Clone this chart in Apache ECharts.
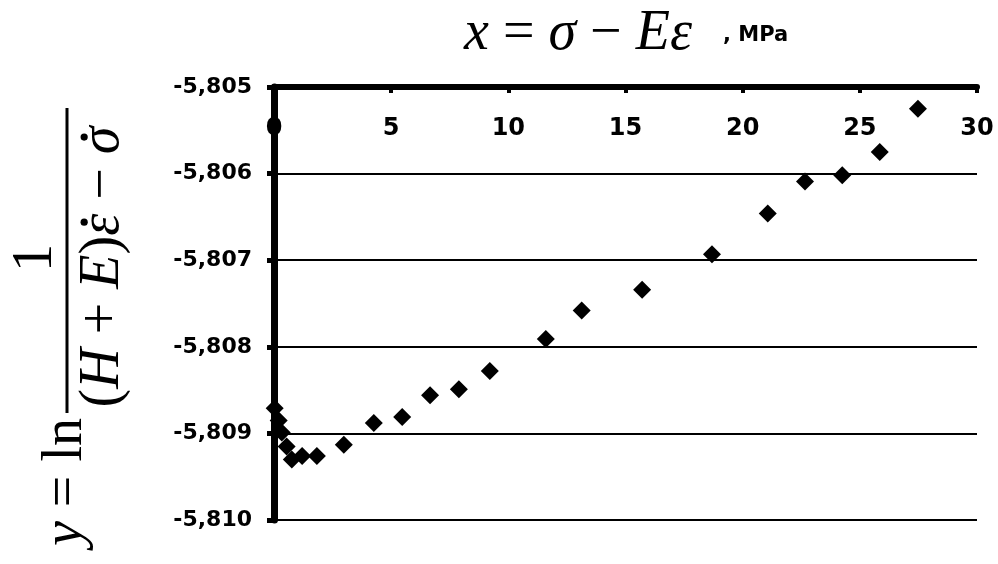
<!DOCTYPE html>
<html>
<head>
<meta charset="utf-8">
<script src="https://cdn.jsdelivr.net/npm/echarts@6/dist/echarts.min.js"></script>
<style>
html,body{margin:0;padding:0;background:#fff;}
#chart{width:998px;height:564px;}
</style>
</head>
<body>
<div id="chart"></div>
<script>
// Data
var xValues = [0.03, 0.2, 0.33, 0.54, 0.76, 1.2, 1.83, 2.98, 4.26, 5.47, 6.66, 7.89, 9.21, 11.6, 13.13, 15.71, 18.69, 21.07, 22.66, 24.25, 25.85, 27.48];
var yValues = [-5.80871, -5.80885, -5.80899, -5.80915, -5.80930, -5.80926, -5.80926, -5.80913, -5.80888, -5.80881, -5.80856, -5.80849, -5.80828, -5.80791, -5.80758, -5.80734, -5.80693, -5.80646, -5.80609, -5.80602, -5.80575, -5.80525];
var xTicks = {min: 0, max: 30, interval: 5};
var yTicks = {min: -5.810, max: -5.805, interval: 0.001};

var points = xValues.map(function (x, i) { return [x, yValues[i]]; });

var MATH = 56;
var mctx = document.createElement('canvas').getContext('2d');
function fontOf(it, size) { return (it ? 'italic ' : '') + size + 'px "Liberation Serif"'; }
function measure(t, it, size) { mctx.font = fontOf(it, size); return mctx.measureText(t).width; }

// lay out a row of math segments, centered at cx, baseline by, in local coords
function mathRow(segs, cx, by, size) {
  var widths = segs.map(function (s) { return measure(s.t, s.it, size); });
  var total = widths.reduce(function (a, b) { return a + b; }, 0);
  var x = cx - total / 2;
  var out = [];
  segs.forEach(function (s, i) {
    out.push({
      type: 'text', x: x, y: by - 0.3 * size,
      style: {
        text: s.t, font: fontOf(s.it, size), fill: '#000',
        align: 'left', textAlign: 'left', verticalAlign: 'middle', textVerticalAlign: 'middle'
      }
    });
    if (s.dot) {
      out.push({
        type: 'circle',
        shape: {cx: x + widths[i] * 0.62, cy: by - 0.64 * size, r: 3.6},
        style: {fill: '#000'}
      });
    }
    x += widths[i];
  });
  return out;
}

var chart = echarts.init(document.getElementById('chart'), null, {renderer: 'canvas'});
var yLabelFont = {fontFamily: 'DejaVu Sans', fontWeight: 'bold', fontSize: 22, color: '#000'};
var xLabelFont = {fontFamily: 'DejaVu Sans', fontWeight: 'bold', fontSize: 24, color: '#000'};

var titleRow = mathRow([
  {t: 'x', it: true}, {t: ' = ', it: false}, {t: 'σ', it: true}, {t: ' − ', it: false}, {t: 'Eε', it: true}
], 0, 0, MATH);

var lhsRow = mathRow([{t: 'y', it: true}, {t: ' = ln', it: false}], 0, 0, MATH);
var lhsW = measure('y', true, MATH) + measure(' = ln', false, MATH);
lhsRow.forEach(function (e) { e.x -= (118 + lhsW / 2); });

var denRow = mathRow([
  {t: '(', it: false}, {t: 'H', it: true}, {t: ' + ', it: false}, {t: 'E', it: true},
  {t: ')', it: false}, {t: 'ε', it: true, dot: true}, {t: ' − ', it: false}, {t: 'σ', it: true, dot: true}
], 33, 37, MATH);

var numRow = mathRow([{t: '1', it: false}], 42, -30, MATH);

chart.setOption({
  animation: false,
  backgroundColor: '#fff',
  grid: {left: 274, right: 21, top: 87, bottom: 44, containLabel: false},
  xAxis: {
    type: 'value',
    position: 'top',
    min: xTicks.min, max: xTicks.max, interval: xTicks.interval,
    axisLine: {show: true, onZero: false, lineStyle: {color: '#000', width: 6}},
    axisTick: {show: true, inside: true, length: 6, lineStyle: {color: '#000', width: 4}},
    axisLabel: Object.assign({inside: true, margin: 30}, xLabelFont),
    splitLine: {show: false}
  },
  yAxis: {
    type: 'value',
    min: yTicks.min, max: yTicks.max, interval: yTicks.interval,
    axisLine: {show: true, onZero: false, lineStyle: {color: '#000', width: 7}},
    axisTick: {show: true, inside: false, length: 7, lineStyle: {color: '#000', width: 5}},
    axisLabel: Object.assign({margin: 22, formatter: function (v) { return v.toFixed(3).replace('.', ','); }}, yLabelFont),
    splitLine: {show: true, lineStyle: {color: '#000', width: 2}}
  },
  series: [{
    type: 'scatter',
    data: points,
    symbol: 'diamond',
    symbolSize: [18, 18],
    itemStyle: {color: '#000', opacity: 1},
    emphasis: {disabled: true},
    z: 5
  }],
  graphic: [
    {type: 'group', x: 578, y: 51, children: titleRow},
    {
      type: 'text', x: 723, y: 36,
      style: {
        text: ', MPa',
        font: 'bold 21px "DejaVu Sans"', fill: '#000',
        align: 'left', textAlign: 'left', verticalAlign: 'middle', textVerticalAlign: 'middle'
      }
    },
    {
      type: 'group', x: 83, y: 300, rotation: Math.PI / 2,
      children: lhsRow.concat([
        {
          type: 'line',
          shape: {x1: -113, y1: -16, x2: 192, y2: -16},
          style: {stroke: '#000', lineWidth: 3}
        }
      ]).concat(numRow).concat(denRow)
    }
  ]
});
</script>
</body>
</html>
